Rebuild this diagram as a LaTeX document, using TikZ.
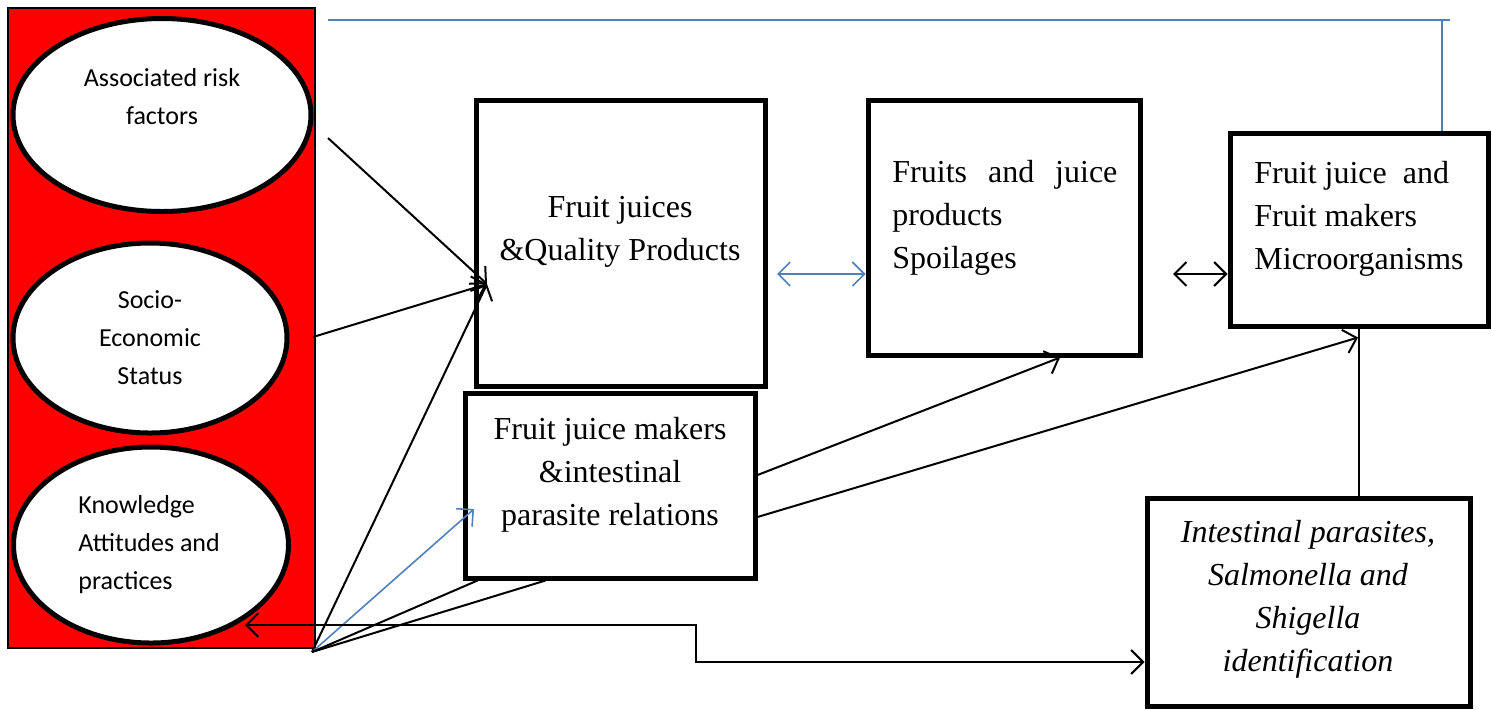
\documentclass[tikz,border=0pt]{standalone}
\usepackage{fontspec}
\setmainfont{Liberation Serif}
\newfontfamily\calibri{Carlito}
\usepackage{tikz}
\usetikzlibrary{shapes.geometric, arrows.meta, calc}
\definecolor{wordblue}{RGB}{79,129,189}

\begin{document}
\begin{tikzpicture}[x=0.5pt, y=-0.5pt,
		>={Straight Barb[length=6pt,width=12pt]},
		bubble/.style={ellipse, draw, line width=2.5pt, fill=white},
		card/.style={draw, line width=2.5pt, fill=white},
		boxtext/.style={font=\fontsize{16}{21.5}\selectfont, inner sep=0pt},
		bubbletext/.style={font=\calibri\fontsize{13}{19}\selectfont, inner sep=0pt},
		link/.style={line width=1pt},
		bluelink/.style={line width=0.8pt, wordblue}]
			\useasboundingbox (0,0) rectangle (1492,709);
			% factors panel
			\draw [fill=red, line width=1pt] (8,8) rectangle (315,648);
			\node [bubble, minimum width=149pt, minimum height=96.5pt] (risk) at (162,115) {};
			\node [bubble, minimum width=137pt, minimum height=95pt] (socio) at (150,338) {};
			\node [bubble, minimum width=137.5pt, minimum height=98pt] (knowledge) at (151,545) {};
			\node [bubbletext, align=center] (riskText) at (162,97) {Associated risk\\factors};
			\node [bubbletext, align=center] (socioText) at (150,338) {Socio-\\Economic\\Status};
			\node [bubbletext, align=left, anchor=west] (knowledgeText) at (78,545) {Knowledge\\Attitudes and\\practices};
			% boxes
			\node [card, minimum width=144.5pt, minimum height=143pt] (quality) at (620.5,243) {};
			\node [card, minimum width=136pt, minimum height=127.5pt] (spoil) at (1004,227.5) {};
			\node [card, minimum width=129pt, minimum height=96.5pt] (micro) at (1359,229.5) {};
			\node [card, minimum width=145pt, minimum height=92.5pt] (parasite) at (610,485.5) {};
			\node [card, minimum width=161.5pt, minimum height=104pt] (intest) at (1308.5,602) {};
			\node [boxtext, align=center] (qualityText) at (620,232) {Fruit juices\\\&Quality Products};
			\node [boxtext, align=left, anchor=west] (spoilText) at (892,217.5) {\makebox[112.5pt][s]{Fruits and juice}\\products\\Spoilages};
			\node [boxtext, align=left, anchor=west] (microText) at (1254,219) {Fruit juice\ \ and\\Fruit makers\\Microorganisms};
			\node [boxtext, align=center] (parasiteText) at (610,475) {Fruit juice makers\\\&intestinal\\parasite relations};
			\node [boxtext, align=center, font=\fontsize{16}{21.5}\selectfont\itshape] (intestText) at (1308,599) {Intestinal parasites,\\Salmonella and\\Shigella\\identification};
			% free ends
			\coordinate (riskOut) at (328,138);
			\coordinate (socioOut) at (313,337);
			\coordinate (hub) at (312,652);
			\coordinate (qualityIn) at (487,284);
			\coordinate (parasiteIn) at (474,509);
			\coordinate (qualityEast) at (777,274);
			\coordinate (spoilEast) at (1173,274);
			\coordinate (knowledgeIn) at (245,625);
			\coordinate (topLeft) at (328,20);
			\coordinate (topRight) at (1450,20);
			\coordinate (topCorner) at (1442,20);
			% connectors
			\draw [link, ->] (riskOut) -- (qualityIn);
			\draw [link, ->] (socioOut) -- (qualityIn);
			\draw [link, ->] (hub) -- (qualityIn);
			\draw [bluelink, ->] (hub) -- (parasiteIn);
			\draw [link] (hub) -- ($(parasite.south west)+(15,0)$);
			\draw [link] (hub) -- ($(parasite.south west)+(83,0)$);
			\draw [bluelink, <->] (qualityEast) -- (qualityEast -| spoil.west);
			\draw [link, <->] (spoilEast) -- (spoilEast -| micro.west);
			\draw [link, ->] ($(parasite.east)+(0,-10.5)$) -- ($(spoil.south)+(56,0)$);
			\draw [link, ->] ($(parasite.east)+(0,31.5)$) -- ($(micro.south)+(-1,9)$);
			\draw [link] (micro.south) -- (micro.south |- intest.north);
			\draw [link, <->] (knowledgeIn) -- ++(451,0) |- ($(intest.west)+(0,60)$);
			\draw [bluelink] (topLeft) -- (topRight);
			\draw [bluelink] (topCorner) -- (topCorner |- micro.north);
		\end{tikzpicture}
\end{document}
